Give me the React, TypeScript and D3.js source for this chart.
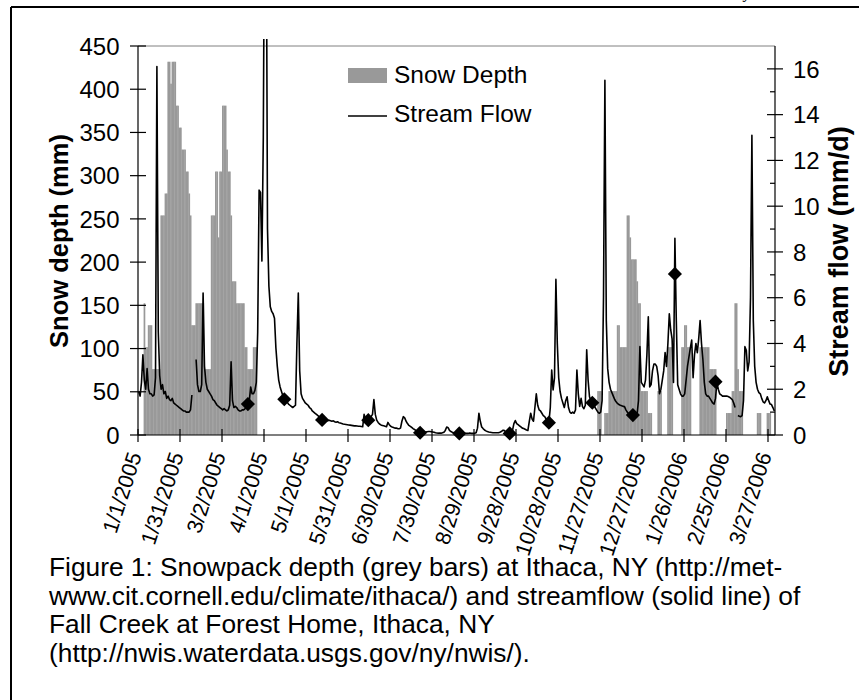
import React from "react";
import * as d3 from "d3";

const W = 859;
const H = 700;
const FONT = "'Liberation Sans', Arial, Helvetica, sans-serif";

// x categories: one per day starting 1/1/2005 (455 days to 3/31/2006)
const dayCount = 455;
const dateTickDays = [0, 30, 60, 90, 120, 150, 180, 210, 240, 270, 300, 330, 360, 390, 420, 450];
const dateLabels = [
  "1/1/2005", "1/31/2005", "3/2/2005", "4/1/2005", "5/1/2005", "5/31/2005",
  "6/30/2005", "7/30/2005", "8/29/2005", "9/28/2005", "10/28/2005", "11/27/2005",
  "12/27/2005", "1/26/2006", "2/25/2006", "3/27/2006",
];

// Snow depth in inches, as runs [firstDay, lastDay, inches]
const snowRuns: [number, number, number][] = [
  [4, 4, 6], [5, 6, 4], [7, 9, 5], [10, 15, 3], [16, 18, 10], [19, 20, 11],
  [21, 22, 17], [23, 23, 16], [24, 26, 17], [27, 28, 15], [29, 30, 14], [31, 33, 13],
  [34, 35, 12], [36, 36, 11], [37, 37, 10], [38, 40, 5], [41, 46, 6], [47, 51, 3],
  [52, 54, 10], [55, 56, 12], [57, 57, 9], [58, 59, 12], [60, 62, 15], [63, 63, 13],
  [64, 65, 12], [66, 66, 10], [67, 69, 7], [70, 75, 6], [76, 77, 4], [78, 81, 3], [82, 84, 4],
  [328, 330, 2], [333, 335, 1], [336, 341, 2], [342, 343, 5], [344, 348, 4], [349, 350, 10],
  [351, 351, 9], [352, 355, 8], [356, 356, 7], [357, 358, 6], [359, 363, 2], [364, 366, 1],
  [371, 373, 2], [378, 381, 4], [388, 389, 4], [390, 391, 5], [392, 394, 4], [401, 407, 4],
  [408, 412, 3], [420, 423, 1], [424, 425, 2], [426, 427, 6], [428, 428, 3], [429, 431, 2],
  [442, 444, 1], [449, 451, 1],
];

// Daily stream flow (mm/d); null = missing
const streamFlow: (number | null)[] = [
  1.9, 1.7, 2.3, 3.5, 2.4, 2.0, 2.9, 2.0, 1.8, 1.8,
  1.7, 1.75, 2.5, 16.1, 4.5, 2.6, 2.0, 2.2, 1.8, 1.9,
  1.6, 1.7, 1.55, 1.5, 1.6, 1.4, 1.35, 1.3, 1.25, 1.2,
  1.15, 1.1, 1.05, 1.05, 1.0, 1.0, 1.0, 1.1, 1.75, null,
  null, 3.3, 2.2, 1.9, 1.9, 2.2, 6.2, 3.0, 2.3, 2.0,
  1.9, 1.8, 1.7, 1.55, 1.5, 1.4, 1.3, 1.25, 1.2, 1.15,
  1.1, 1.15, 1.1, 1.05, 1.1, 1.3, 3.2, 1.5, 1.2, 1.25,
  1.2, 1.1, 1.05, 1.05, 1.1, 1.1, 1.15, 1.3, 1.35, 1.5,
  2.1, 1.8, 1.8, 1.95, 2.3, 4.5, 10.7, 10.6, 7.6, 13,
  25, 25, 9, 6.5, 5.6, 5.4, 5.3, 5.1, 3.8, 3.0,
  2.4, 2.1, 1.9, 1.7, 1.6, 1.55, 1.45, 1.35, 1.3, 1.25,
  1.2, 1.25, 1.3, 4.0, 6.2, 2.8, 1.8, 1.6, 1.5, 1.4,
  1.35, 1.3, 1.2, 1.15, 1.05, 1.0, 0.95, 0.9, 0.85, 0.78,
  0.72, 0.68, 0.66, 0.64, 0.63, 0.62, 0.64, 0.62, 0.6, 0.62,
  0.58, 0.56, 0.58, 0.54, 0.52, 0.5, 0.48, 0.47, 0.46, 0.45,
  0.44, 0.43, 0.42, 0.41, 0.4, 0.4, 0.39, 0.38, 0.38, 0.37,
  0.36, 0.9, 0.7, 0.65, 0.7, 0.73, 0.8, 0.9, 1.55, 0.9,
  0.65, 0.55, 0.48, 0.44, 0.42, 0.4, 0.38, 0.36, 0.55, 0.45,
  0.38, 0.35, 0.33, 0.3, 0.3, 0.28, 0.27, 0.3, 0.6, 0.8,
  0.75, 0.6, 0.5, 0.42, 0.38, 0.33, 0.28, 0.24, 0.2, 0.18,
  0.15, 0.12, 0.1, 0.1, 0.12, 0.13, 0.14, 0.15, 0.15, 0.14,
  0.13, 0.12, 0.1, 0.09, 0.08, 0.08, 0.08, 0.1, 0.12, 0.2,
  0.35, 0.32, 0.2, 0.15, 0.12, 0.1, 0.1, 0.08, 0.08, 0.07,
  0.07, 0.07, 0.08, 0.08, 0.07, 0.07, 0.08, 0.08, 0.07, 0.07,
  0.08, 0.1, 0.3, 0.95, 0.6, 0.35, 0.28, 0.22, 0.18, 0.15,
  0.13, 0.12, 0.11, 0.1, 0.1, 0.1, 0.1, 0.1, 0.12, 0.15,
  0.2, 0.2, 0.15, 0.12, 0.1, 0.08, 0.07, 0.2, 0.5, 0.63,
  0.5, 0.45, 0.4, 0.35, 0.3, 0.28, 0.25, 0.22, 0.2, 0.6,
  0.95, 0.7, 0.6, 1.2, 1.8, 1.3, 1.1, 1.05, 0.95, 0.85,
  0.8, 0.7, 0.6, 0.55, 1.2, 2.84, 1.97, 2.5, 6.8, 4.0,
  2.5, 1.9, 1.6, 1.4, 1.2, 1.5, 1.67, 1.2, 1.0, 0.95,
  1.0, 0.95, 1.1, 2.84, 1.8, 1.25, 1.6, 1.24, 1.15, 1.3,
  3.72, 2.4, 1.67, 1.5, 1.41, 1.3, 1.2, 1.1, 1.0, 0.95,
  1.0, 1.5, 6, 15.5, 5.0, 2.9, 2.3, 2.0, 1.85, 1.7,
  1.55, 1.45, 1.38, 1.33, 1.3, 1.28, 1.25, 1.24, 1.1, 1.0,
  0.93, 0.9, 0.88, 0.87, 0.87, 0.9, 0.92, 1.5, 3.86, 2.3,
  2.2, 2.1, 2.4, 3.5, 5.17, 2.1, 2.2, 2.8, 3.1, 3.1,
  3.0, 2.6, 1.8, 2.0, 2.4, 2.8, 3.6, 3.0, 4.0, 5.3,
  4.6, 4.2, 2.3, 8.6, 5.0, 2.2, 2.0, 1.8, 1.7, 1.7,
  1.8, 2.4, 3.0, 3.4, 3.8, 4.15, 2.5, 3.5, 4.0, 3.6,
  4.2, 5.0, 4.0, 3.3, 2.3, 1.8, 1.7, 1.7, 1.6, 1.5,
  1.4, 1.35, 1.6, 2.3, 2.0, 1.8, 1.75, 1.7, 1.7, 1.7,
  1.7, 1.68, 1.65, 1.6, 1.55, 1.4, 1.2, null, 0.85, 0.82,
  0.8, 0.85, 1.5, 3.86, 3.7, 2.8, 3.2, 6, 13.1, 5.0,
  3.0, 2.3, 2.0, 1.85, 1.8, 1.6, 1.45, 1.4, 1.5, 1.67,
  1.5, 1.35, 1.33, 1.2, 1.05,
];

// Sampling dates (diamonds)
const sampleDays = [78, 104, 131, 164, 201, 229, 265, 293, 324, 353, 383, 412];
const sampleFlow = [1.35, 1.56, 0.66, 0.65, 0.1, 0.07, 0.07, 0.54, 1.41, 0.87, 7.04, 2.33];

const depthTicks = [0, 50, 100, 150, 200, 250, 300, 350, 400, 450];
const flowTicks = [0, 2, 4, 6, 8, 10, 12, 14, 16];
const flowMinorTicks = [1, 3, 5, 7, 9, 11, 13, 15];

const captionLines = [
  "Figure 1:  Snowpack depth (grey bars) at Ithaca, NY (http://met-",
  "www.cit.cornell.edu/climate/ithaca/) and streamflow (solid line) of",
  "Fall Creek at Forest Home, Ithaca, NY",
  "(http://nwis.waterdata.usgs.gov/ny/nwis/).",
];

export default function App() {
  const left = 138, right = 775, top = 46, bottom = 435;
  const x = d3.scaleLinear().domain([0, dayCount]).range([left, right]);
  const yL = d3.scaleLinear().domain([0, 450]).range([bottom, top]);
  const yR = d3.scaleLinear().domain([0, 17]).range([bottom, top]);

  const snowIn: number[] = new Array(dayCount).fill(0);
  snowRuns.forEach(([a, b, v]) => {
    for (let d = a; d <= b; d++) snowIn[d] = v;
  });

  const line = d3
    .line<number | null>()
    .defined((v) => v != null)
    .x((_, i) => x(i + 0.5))
    .y((v) => yR(v as number));
  const linePath = line(streamFlow) || "";

  const diamond = d3.symbol(d3.symbolSquare, 100)() || "";

  return (
    <svg width={W} height={H} style={{ position: "absolute", left: 0, top: 0, background: "#fff" }}
      fontFamily={FONT}>
      <defs>
        <clipPath id="plotclip">
          <rect x={left} y={39} width={right - left} height={bottom - 39} />
        </clipPath>
      </defs>
      <rect x={0} y={0} width={W} height={H} fill="#fff" />
      {/* page remnant */}
      <text x={744} y={-2} fontSize={16} fontStyle="italic" fontFamily="'Liberation Serif', serif">y</text>
      {/* frame */}
      <line x1={11} y1={7} x2={W} y2={7} stroke="#000" strokeWidth={2} />
      <line x1={11} y1={7} x2={11} y2={H} stroke="#000" strokeWidth={2} />

      {/* plot area top border */}
      <line x1={left} y1={top} x2={right} y2={top} stroke="#808080" strokeWidth={1} />

      {/* snow bars */}
      <g fill="#999999">
        {snowIn.map((v, i) =>
          v > 0 ? (
            <rect key={i} x={x(i)} width={x(i + 1) - x(i) + 0.3} y={yL(v * 25.4)} height={bottom - yL(v * 25.4)} />
          ) : null
        )}
      </g>

      {/* stream flow line */}
      <g clipPath="url(#plotclip)">
        <path d={linePath} fill="none" stroke="#000" strokeWidth={1.6} strokeLinejoin="round" />
      </g>
      {/* sample diamonds */}
      {sampleDays.map((d, i) => (
        <path key={i} d={diamond} transform={`translate(${x(d + 0.5)},${yR(sampleFlow[i])}) rotate(45)`} fill="#000" />
      ))}

      {/* left axis */}
      <line x1={left} y1={top} x2={left} y2={bottom} stroke="#000" strokeWidth={1.2} />
      {depthTicks.map((t) => (
        <g key={t}>
          <line x1={left - 8} x2={left + 8} y1={yL(t)} y2={yL(t)} stroke="#000" strokeWidth={1.2} />
          <text x={119.5} y={yL(t)} dy="0.36em" textAnchor="end" fontSize={24}>{t}</text>
        </g>
      ))}

      {/* right axis */}
      <line x1={right} y1={top} x2={right} y2={bottom} stroke="#000" strokeWidth={1.2} />
      {flowTicks.map((t) => (
        <g key={t}>
          <line x1={right - 8} x2={right + 8} y1={yR(t)} y2={yR(t)} stroke="#000" strokeWidth={1.2} />
          <text x={793} y={yR(t)} dy="0.36em" textAnchor="start" fontSize={24}>{t}</text>
        </g>
      ))}
      {flowMinorTicks.map((t) => (
        <line key={t} x1={right - 5} x2={right} y1={yR(t)} y2={yR(t)} stroke="#000" strokeWidth={1.2} />
      ))}

      {/* x axis */}
      <line x1={left} y1={bottom} x2={right} y2={bottom} stroke="#000" strokeWidth={1.2} />
      {dateTickDays.map((d, i) => (
        <g key={d}>
          <line x1={x(d)} x2={x(d)} y1={bottom - 6} y2={bottom + 7} stroke="#000" strokeWidth={1.2} />
          <text
            transform={`translate(${x(d) + 4},${455}) rotate(-72)`}
            textAnchor="end"
            fontSize={21.5}
          >
            {dateLabels[i]}
          </text>
        </g>
      ))}

      {/* axis titles */}
      <text transform={`translate(68,241) rotate(-90)`} textAnchor="middle" fontSize={25.5} fontWeight="bold">
        Snow depth (mm)
      </text>
      <text transform={`translate(848,251.5) rotate(-90)`} textAnchor="middle" fontSize={27} fontWeight="bold">
        Stream flow (mm/d)
      </text>

      {/* legend */}
      <rect x={348} y={68} width={39} height={15} fill="#999999" />
      <text x={394} y={83} fontSize={24.5}>Snow Depth</text>
      <line x1={348} x2={387} y1={116} y2={116} stroke="#000" strokeWidth={1.6} />
      <text x={394} y={122} fontSize={24.5}>Stream Flow</text>

      {/* caption */}
      {captionLines.map((s, i) => (
        <text key={i} x={49} y={576 + i * 28.7} fontSize={26.3}>{s}</text>
      ))}
    </svg>
  );
}
